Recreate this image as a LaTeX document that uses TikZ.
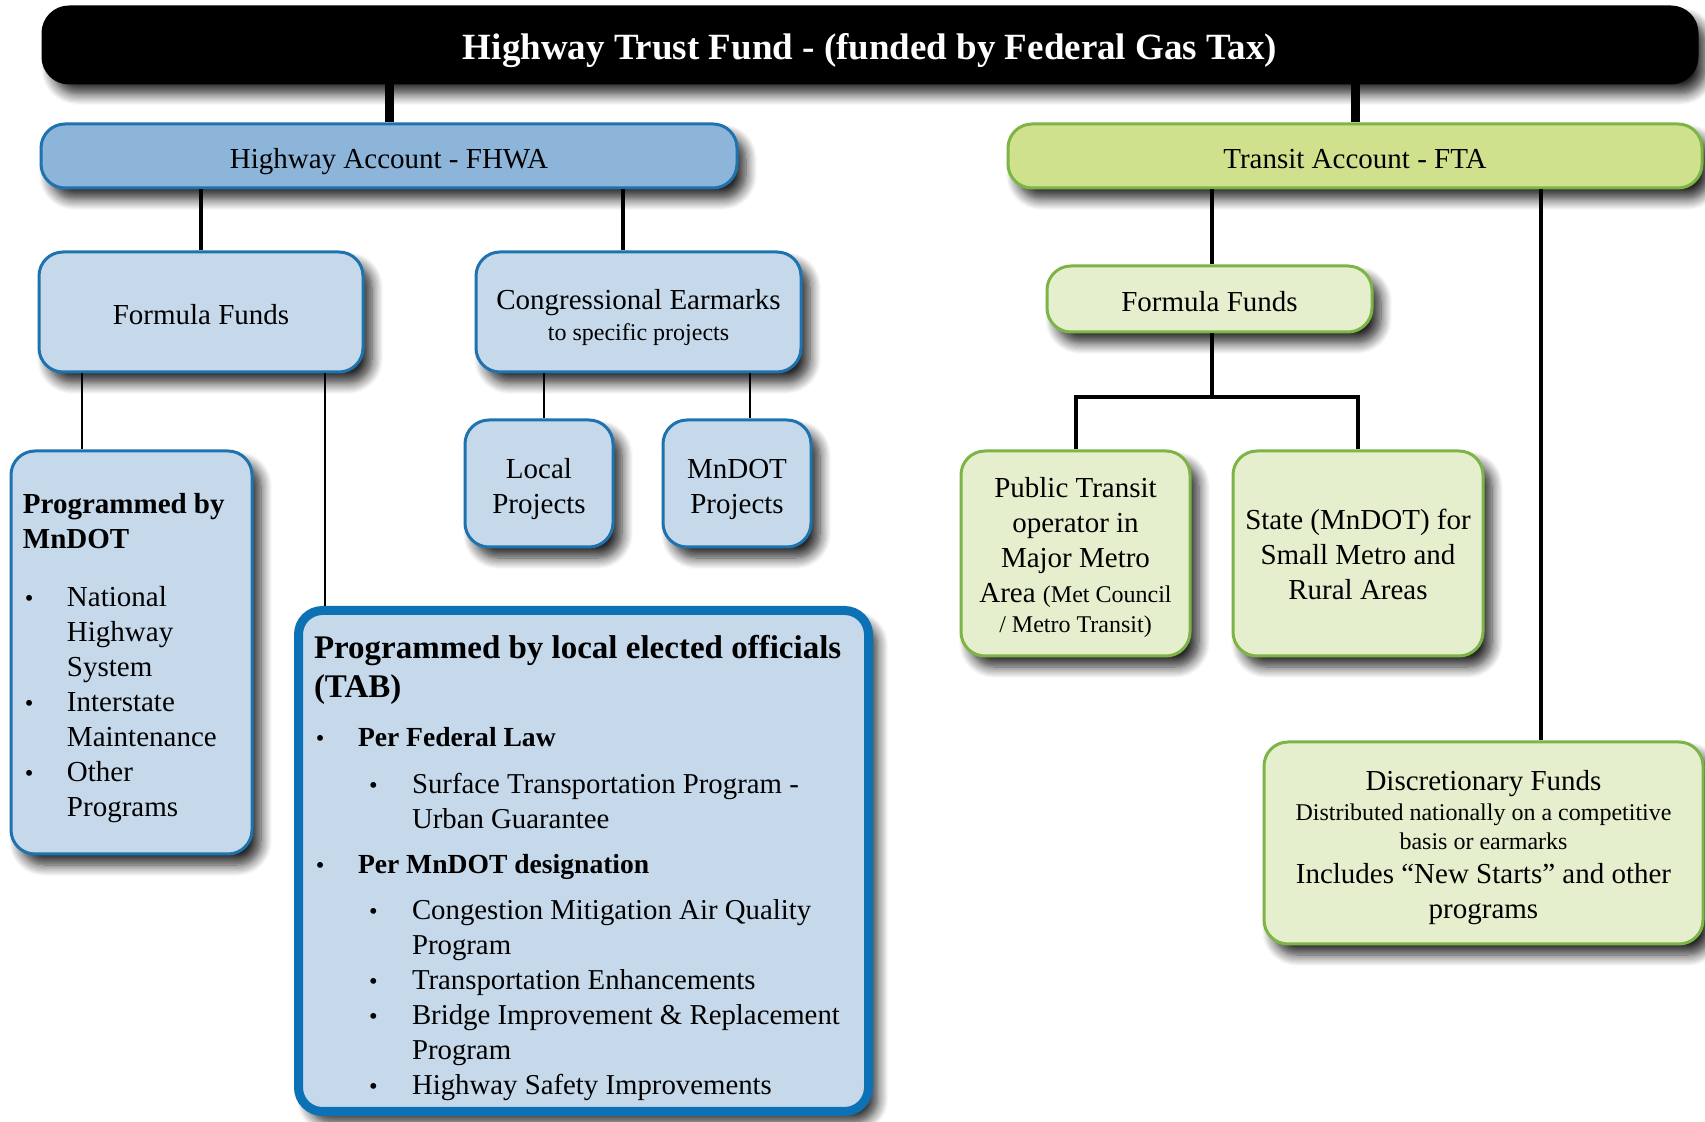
\documentclass[tikz,border=0pt]{standalone}
\usepackage{fontspec}
\setmainfont{Liberation Serif}
\usepackage{tikz}
\usetikzlibrary{shadows.blur}

\definecolor{hwyblue}{HTML}{8DB4D9}
\definecolor{boxblue}{HTML}{C6D9EB}
\definecolor{edgeblue}{HTML}{1E73AF}
\definecolor{tabblue}{HTML}{0C72B5}
\definecolor{transgreen}{HTML}{CFE18D}
\definecolor{boxgreen}{HTML}{E6EFCD}
\definecolor{edgegreen}{HTML}{7DB446}

\newcommand{\bodysize}{\fontsize{14.5}{17.5}\selectfont}
\newcommand{\tabsize}{\fontsize{14.4}{17.5}\selectfont}
\newcommand{\smallsize}{\fontsize{12}{14.5}\selectfont}
\newcommand{\headsize}{\fontsize{16.5}{19.5}\selectfont\bfseries}
\newcommand{\subhead}[1]{{\fontsize{13.8}{17.5}\selectfont\bfseries #1}}
\newcommand{\dotmark}{\scalebox{0.85}{\textbullet}}
\newcommand{\bulA}[1]{\hspace*{1pt}\makebox[21pt][l]{\dotmark}#1}
\newcommand{\contA}[1]{\hspace*{22pt}#1}
\newcommand{\bulB}[1]{\hspace*{27.5pt}\makebox[21.5pt][l]{\dotmark}#1}
\newcommand{\contB}[1]{\hspace*{49pt}#1}

\tikzset{
  box/.style={rounded corners=12pt, line width=1.5pt, align=flush center, inner sep=0pt, font=\bodysize,
    blur shadow={shadow xshift=4.5pt, shadow yshift=-5.5pt, shadow blur radius=5.5pt, shadow blur steps=10, shadow opacity=85}},
  bluebox/.style={box, draw=edgeblue, fill=boxblue},
  greenbox/.style={box, draw=edgegreen, fill=boxgreen},
  boxsize/.style 2 args={minimum width=#1, text width=#1, minimum height=#2},
  oneline/.style={text height=14pt, text depth=1.7pt},
  trunk/.style={line width=4.5pt},
  limb/.style={line width=2pt},
  twig/.style={line width=1pt}
}

\begin{document}
\begin{tikzpicture}[x=0.5pt, y=-0.5pt]
\useasboundingbox (0,0) rectangle (1705,1122);
\node[box, draw=black, fill=black, text=white, font=\fontsize{18.5}{22}\selectfont\bfseries, boxsize={827pt}{38pt}, rounded corners=13pt, text height=17pt, text depth=2.2pt] (fund) at (870,45) {Highway Trust Fund - (funded by Federal Gas Tax)};

\node[bluebox, fill=hwyblue, boxsize={348pt}{32pt}, oneline] (hwy) at (389,156) {Highway Account - FHWA};
\node[greenbox, fill=transgreen, boxsize={347pt}{32pt}, oneline] (fta) at (1355,156) {Transit Account - FTA};

\node[bluebox, boxsize={162pt}{60pt}, oneline] (formL) at (201,312) {Formula Funds};
\node[bluebox, boxsize={162.5pt}{60pt}, text height=15.3pt] (earmark) at (638.5,312) {Congressional Earmarks\\[-2pt]{\smallsize to specific projects}};
\node[bluebox, boxsize={74pt}{63.5pt}, text height=15.3pt] (local) at (539,483.5) {Local\\Projects};
\node[bluebox, boxsize={74pt}{63.5pt}, text height=15.3pt] (mndot) at (737,483.5) {MnDOT\\Projects};

\node[bluebox, minimum width=120.5pt, minimum height=201.5pt, text width=108.5pt, inner xsep=6pt, align=flush left, text height=15.4pt] (bymndot) at (131.5,652.5) {\textbf{Programmed by}\\\textbf{MnDOT}\\[11.5pt]
\bulA{National}\\
\contA{Highway}\\
\contA{System}\\
\bulA{Interstate}\\
\contA{Maintenance}\\
\bulA{Other}\\
\contA{Programs}};

\node[bluebox, draw=tabblue, line width=4.5pt, minimum width=285pt, minimum height=250.5pt, text width=269.5pt, inner xsep=7.75pt, align=flush left, font=\tabsize, text height=18.4pt] (tab) at (583.5,861) {{\headsize Programmed by local elected officials}\\[2pt]{\headsize (TAB)}\\[7pt]
\bulA{\subhead{Per Federal Law}}\\[6pt]
\bulB{Surface Transportation Program -}\\
\contB{Urban Guarantee}\\[5pt]
\bulA{\subhead{Per MnDOT designation}}\\[5.5pt]
\bulB{Congestion Mitigation Air Quality}\\
\contB{Program}\\
\bulB{Transportation Enhancements}\\
\bulB{Bridge Improvement \& Replacement}\\
\contB{Program}\\
\bulB{Highway Safety Improvements}};

\node[greenbox, boxsize={162.5pt}{33pt}, oneline] (formR) at (1209.5,299) {Formula Funds};
\node[greenbox, boxsize={114.5pt}{102.5pt}, text height=14.2pt] (metro) at (1075.5,553.5) {Public Transit\\operator in\\Major Metro\\Area {\smallsize(Met Council}\\[-2.5pt]{\smallsize/ Metro Transit)}};
\node[greenbox, boxsize={125pt}{102.5pt}, text height=11pt] (state) at (1358,553.5) {State (MnDOT) for\\Small Metro and\\Rural Areas};
\node[greenbox, boxsize={219.5pt}{101pt}, text height=14.2pt] (disc) at (1483.5,843) {Discretionary Funds\\[-2.5pt]{\smallsize Distributed nationally on a competitive}\\[-3pt]{\smallsize basis or earmarks}\\[-0.5pt]Includes “New Starts” and other\\programs};

\draw[trunk] (fund.south -| hwy) -- (hwy.north);
\draw[trunk] (fund.south -| fta) -- (fta.north);
\draw[limb] (hwy.south -| formL) -- (formL.north);
\draw[limb] (hwy.south -| 623,0) -- (earmark.north -| 623,0);
\draw[twig] (formL.south -| 82,0) -- (bymndot.north -| 82,0);
\draw[twig] (formL.south -| 325,0) -- (tab.north -| 325,0);
\draw[twig] (earmark.south -| 544,0) -- (local.north -| 544,0);
\draw[twig] (earmark.south -| 750,0) -- (mndot.north -| 750,0);
\draw[limb] (fta.south -| 1212,0) -- (formR.north -| 1212,0);
\draw[limb] (fta.south -| 1541,0) -- (disc.north -| 1541,0);
\coordinate (split) at (1212,397);
\draw[limb] (formR.south -| split) -- (split);
\draw[limb] (metro.north) |- (split) -| (state.north);
\end{tikzpicture}
\end{document}
